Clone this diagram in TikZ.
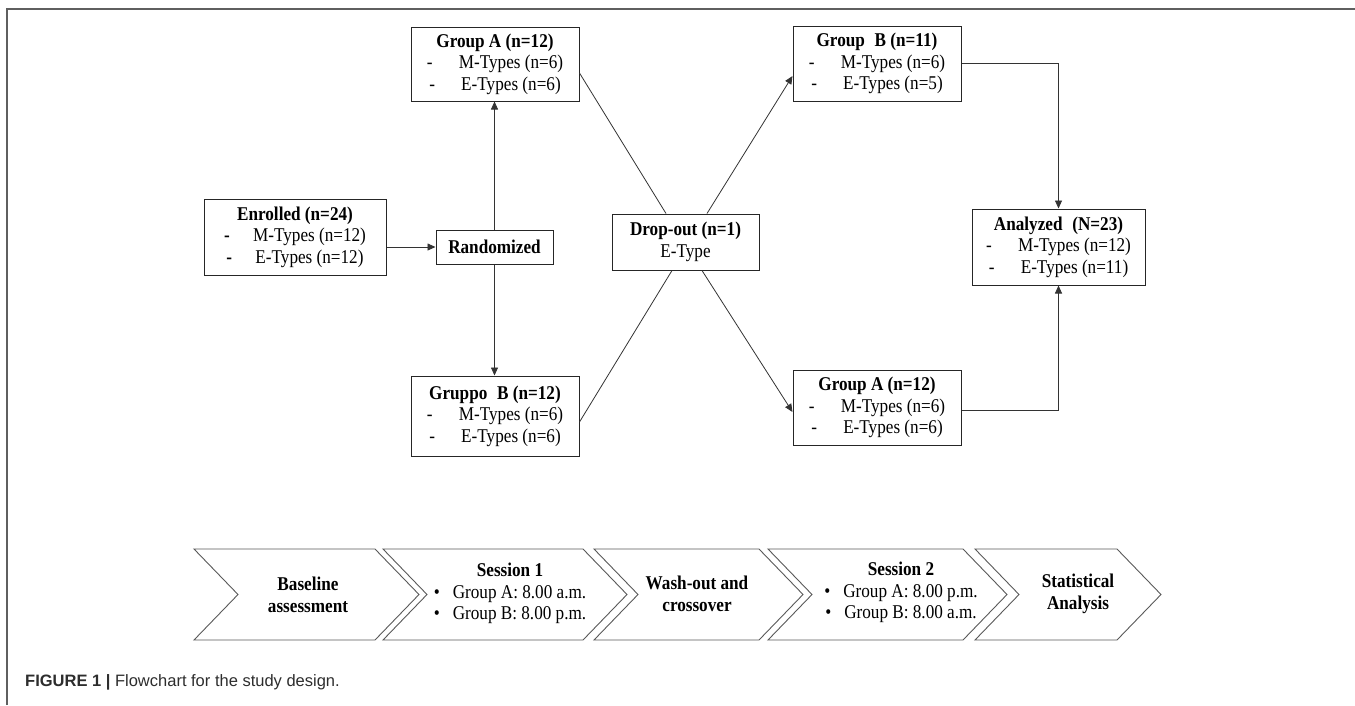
\documentclass[tikz,border=0pt]{standalone}
\usepackage{fontspec}
\setmainfont{Liberation Serif}[FakeStretch=0.88]
\newfontfamily\capfont{Liberation Sans}
\usetikzlibrary{arrows.meta,calc}
\definecolor{frmcol}{RGB}{95,95,95}
\definecolor{capcol}{RGB}{45,45,45}
\newcommand\dline[1]{\makebox[32pt][l]{-}#1}
\newcommand\bdline[1]{\makebox[29pt][l]{\textbf{-}}#1}
\newcommand\bul[1]{\makebox[19pt][l]{\textbullet}#1}
\newcommand\chevshape[2]{\draw[chev] (#1,549) -- (#2,549) -- (#2+44,594.5) -- (#2,640) -- (#1,640) -- (#1+44,594.5) -- cycle;}
\begin{document}
\begin{tikzpicture}[x=1pt,y=-1pt,
  font=\fontsize{19.5}{21.5}\selectfont,
  box/.style={draw=black!85, line width=1pt, inner sep=0pt, align=center, fill=white},
  ln/.style={draw=black!80, line width=0.8pt},
  arr/.style={ln, -{Triangle[length=8pt,width=7pt]}},
  chev/.style={draw=black!65, line width=0.9pt},
  ctext/.style={align=center, inner sep=0pt},
  frame/.style={draw=frmcol, line width=1.3pt}]
\useasboundingbox (0,0) rectangle (1355,705);
\draw[frame] (7,705) -- (7,9) -- (1355,9);

% boxes
\node[box, minimum width=168pt, minimum height=74pt] (ga1) at (495,64)
  {\textbf{Group A (n=12)}\\\dline{M-Types (n=6)}\\\dline{E-Types (n=6)}};
\node[box, minimum width=182pt, minimum height=76pt] (en) at (295,237)
  {\textbf{Enrolled (n=24)}\\\bdline{M-Types (n=12)}\\\bdline{E-Types (n=12)}};
\node[box, minimum width=117pt, minimum height=34pt] (ra) at (494.5,247)
  {\textbf{Randomized}};
\node[box, minimum width=147pt, minimum height=56pt] (dr) at (685.5,242)
  {\textbf{Drop-out (n=1)}\\E-Type};
\node[box, minimum width=168pt, minimum height=80pt] (gb2) at (495,416)
  {\textbf{Gruppo\enspace B (n=12)}\\\dline{M-Types (n=6)}\\\dline{E-Types (n=6)}};
\node[box, minimum width=168pt, minimum height=75pt] (gb1) at (877,63.5)
  {\textbf{Group\enspace B (n=11)}\\\dline{M-Types (n=6)}\\\dline{E-Types (n=5)}};
\node[box, minimum width=173pt, minimum height=76pt] (an) at (1058.5,247)
  {\textbf{Analyzed\enspace(N=23)}\\\dline{M-Types (n=12)}\\\dline{E-Types (n=11)}};
\node[box, minimum width=168pt, minimum height=75pt] (ga2) at (877,407.5)
  {\textbf{Group A (n=12)}\\\dline{M-Types (n=6)}\\\dline{E-Types (n=6)}};

% anchor points on the drop-out box
\coordinate (drtl) at ([xshift=-19.5pt]dr.north);
\coordinate (drtr) at ([xshift=21.5pt]dr.north);
\coordinate (drbl) at ([xshift=-13.5pt]dr.south);
\coordinate (drbr) at ([xshift=16.5pt]dr.south);

% connectors
\draw[arr] (ra.west -| en.east) -- (ra.west);
\draw[arr] (ra.north) -- (ra.north |- ga1.south);
\draw[arr] (ra.south) -- (ra.south |- gb2.north);
\draw[ln] ([yshift=-9pt]ga1.east) -- (drtl);
\draw[ln] ([yshift=-6pt]gb2.east) -- (drbl);
\draw[arr] (drtr) -- ([yshift=-12.5pt]gb1.west);
\draw[arr] (drbr) -- ([yshift=-4.5pt]ga2.west);
\draw[arr] (gb1.east) -| (an.north);
\draw[arr] ([yshift=-2.5pt]ga2.east) -| (an.south);

% timeline chevrons
\chevshape{194}{375}
\chevshape{383}{583}
\chevshape{594}{759}
\chevshape{768}{963}
\chevshape{975}{1117}
\node[ctext] (c1) at (308,595) {\textbf{Baseline}\\\textbf{assessment}};
\node[ctext] (c2) at (510,593.5) {\textbf{Session 1}\\\bul{Group A: 8.00 a.m.}\\\bul{Group B: 8.00 p.m.}};
\node[ctext] (c3) at (697,594) {\textbf{Wash-out and}\\\textbf{crossover}};
\node[ctext] (c4) at (901,592.5) {\textbf{Session 2}\\\bul{Group A: 8.00 p.m.}\\\bul{Group B: 8.00 a.m.}};
\node[ctext] (c5) at (1078,594) {\textbf{Statistical}\\\textbf{Analysis}};

% caption
\node[anchor=west, inner sep=0pt, text=capcol, font=\capfont\fontsize{16.5}{19}\selectfont] (cap) at (25,682)
  {\textbf{FIGURE 1 |} Flowchart for the study design.};
\end{tikzpicture}
\end{document}
